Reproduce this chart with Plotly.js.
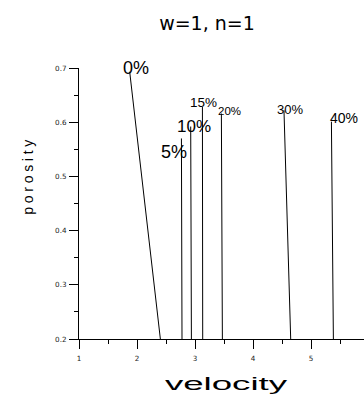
<!DOCTYPE html>
<html>
<head>
<meta charset="utf-8">
<script src="https://cdn.plot.ly/plotly-3.0.1.min.js"></script>
<style>
  html, body { margin: 0; padding: 0; background: #fff; }
  #chart { width: 364px; height: 395px; }
</style>
</head>
<body>
<div id="chart"></div>
<script>
// Clay content labels for each curve
const labels = ['0%', '5%', '10%', '15%', '20%', '30%', '40%'];
// Velocity at the top end of each curve
const velTop = [1.874, 2.766, 2.926, 3.128, 3.455, 4.534, 5.352];
// Porosity at the top end of each curve
const porTop = [0.693, 0.570, 0.592, 0.628, 0.616, 0.622, 0.601];
// Velocity at the bottom end of each curve (porosity 0.2)
const velBottom = [2.403, 2.776, 2.938, 3.133, 3.472, 4.650, 5.386];
const porBottom = [0.2, 0.2, 0.2, 0.2, 0.2, 0.2, 0.2];
// Axis tick values
const xTicks = [1, 2, 3, 4, 5];
const yTicks = [0.2, 0.3, 0.4, 0.5, 0.6, 0.7];

// Label styling (pixel offsets from curve top, font sizes)
const labelStyle = [
  {dx: 6,   dy: 3.7,   size: 18},
  {dx: -7.7, dy: -13.7, size: 18},
  {dx: 3,   dy: 0,     size: 17},
  {dx: 0.8, dy: 5,     size: 13.5},
  {dx: 7.8, dy: 2.3,   size: 11.5},
  {dx: 5.7, dy: 0.5,   size: 13},
  {dx: 12.8, dy: 3.7,  size: 14}
];

const FONT = 'Liberation Sans, Arial, sans-serif';
const WIDE = 'DejaVu Sans, Verdana, sans-serif';

const traces = labels.map((lab, i) => ({
  type: 'scatter',
  mode: 'lines',
  name: lab,
  x: [velTop[i], velBottom[i]],
  y: [porTop[i], porBottom[i]],
  line: {color: '#000', width: 1},
  hoverinfo: 'skip'
}));

const annotations = labels.map((lab, i) => ({
  x: velTop[i], y: porTop[i], xref: 'x', yref: 'y',
  text: lab, showarrow: false,
  xanchor: 'center', yanchor: 'middle',
  xshift: labelStyle[i].dx, yshift: labelStyle[i].dy,
  font: {family: FONT, size: labelStyle[i].size, color: '#000'}
}));

// y-axis title (placed above the axis centre, as in the reference)
annotations.push({
  xref: 'paper', yref: 'paper', x: -0.179, y: 0.6056,
  xanchor: 'center', yanchor: 'middle',
  text: 'porosity', textangle: -90, showarrow: false,
  font: {family: FONT, size: 14, color: '#000'}
});

const layout = {
  width: 364, height: 395,
  margin: {l: 79, r: 0, t: 68, b: 56},
  paper_bgcolor: '#fff', plot_bgcolor: '#fff',
  showlegend: false,
  title: {
    text: 'w=1, n=1',
    font: {family: WIDE, size: 19, color: '#000'},
    xref: 'container', yref: 'container',
    x: 0.5687, y: 1 - 23 / 395, xanchor: 'center', yanchor: 'middle'
  },
  xaxis: {
    range: [1, 1 + 285 / 58],
    tickvals: xTicks,
    ticktext: xTicks.map(String),
    ticks: 'outside', ticklen: 9, tickwidth: 1, tickcolor: '#000',
    minor: {ticks: 'outside', ticklen: 4, tickwidth: 1, tickcolor: '#000', dtick: 0.5, tick0: 1, showgrid: false},
    showline: true, linecolor: '#000', linewidth: 1,
    showgrid: false, zeroline: false,
    tickfont: {family: WIDE, size: 7.2, color: '#222'},
    ticklabelstandoff: 3,
    automargin: false,
    title: {text: 'velocity', font: {family: FONT, size: 19, color: '#000'}, standoff: 15}
  },
  yaxis: {
    range: [0.2, 0.7],
    tickvals: yTicks,
    ticktext: yTicks.map(v => v.toFixed(1)),
    ticks: 'outside', ticklen: 9, tickwidth: 1, tickcolor: '#000',
    minor: {ticks: 'outside', ticklen: 4, tickwidth: 1, tickcolor: '#000', dtick: 0.05, tick0: 0.2, showgrid: false},
    showline: true, linecolor: '#000', linewidth: 1,
    showgrid: false, zeroline: false,
    tickfont: {family: WIDE, size: 7.2, color: '#222'},
    ticklabelstandoff: 1,
    automargin: false
  },
  annotations: annotations
};

Plotly.newPlot('chart', traces, layout, {staticPlot: true, displayModeBar: false}).then(gd => {
  // widen the letter spacing of the rotated y-axis title annotation
  gd.querySelectorAll('.annotation-text').forEach(t => {
    if (t.textContent === 'porosity') t.style.letterSpacing = '3.7px';
  });
  // the reference draws the x title with a horizontally stretched font
  const xt = gd.querySelector('.xtitle');
  if (xt) {
    const cx = parseFloat(xt.getAttribute('x')) || 0;
    const target = cx + 4.5;
    const prev = xt.getAttribute('transform') || '';
    xt.setAttribute('transform',
      'translate(' + target + ',0) scale(1.93,1) translate(' + (-cx) + ',0) ' + prev);
  }
});
</script>
</body>
</html>
